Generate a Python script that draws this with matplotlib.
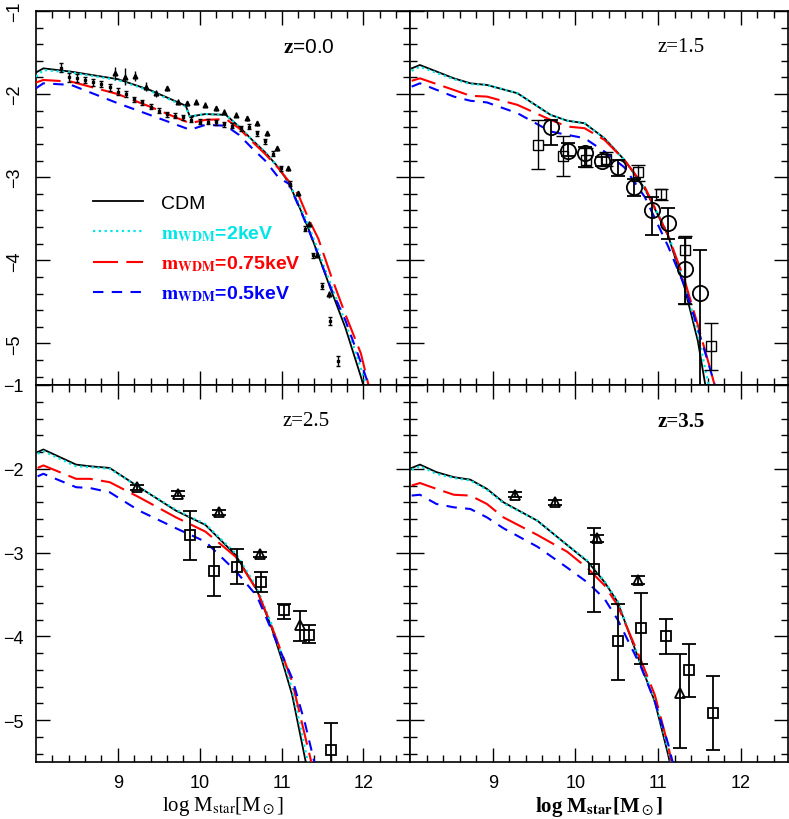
import matplotlib
matplotlib.use("Agg")
import matplotlib.pyplot as plt
import numpy as np

plt.rcParams['font.family'] = ['Liberation Sans', 'DejaVu Sans']
plt.rcParams['mathtext.fontset'] = 'stix'

# ---------------- data ----------------
# z = 0.0 model curves
z0_x = [8.00, 8.09, 8.43, 9.00, 9.39, 9.83, 9.88, 10.07, 10.32, 10.48, 10.64, 10.80,
        10.96, 11.09, 11.21, 11.33, 11.45, 11.61, 11.78, 11.97, 12.10]
z0_cdm = [-1.74, -1.69, -1.73, -1.82, -1.95, -2.14, -2.27, -2.24, -2.25, -2.39, -2.55, -2.70,
          -2.88, -3.07, -3.34, -3.62, -3.94, -4.37, -4.81, -5.40, -5.85]
z0_w2 = [-1.79, -1.71, -1.74, -1.83, -1.96, -2.15, -2.27, -2.24, -2.25, -2.39, -2.55, -2.70,
         -2.88, -3.06, -3.31, -3.58, -3.89, -4.31, -4.74, -5.30, -5.70]
z0_w075 = [-1.86, -1.83, -1.85, -2.00, -2.15, -2.33, -2.35, -2.31, -2.30, -2.41, -2.57, -2.72,
           -2.89, -3.05, -3.22, -3.50, -3.74, -4.20, -4.65, -5.12, -5.65]
z0_w05 = [-1.93, -1.87, -1.89, -2.11, -2.25, -2.41, -2.43, -2.37, -2.38, -2.49, -2.65, -2.80,
          -3.00, -3.08, -3.35, -3.63, -3.94, -4.35, -4.72, -5.23, -5.60]
# z = 0.0 observations (two samples)
z0_obsA_x = [8.30, 8.40, 8.50, 8.60, 8.70, 8.80, 8.90, 9.00, 9.10, 9.20, 9.30, 9.40, 9.50,
             9.60, 9.70, 9.80, 9.90, 10.00, 10.10, 10.20, 10.30, 10.40, 10.50, 10.60, 10.70,
             10.80, 10.89, 10.99, 11.10, 11.29, 11.39, 11.49, 11.59, 11.69]
z0_obsA_y = [-1.68, -1.80, -1.81, -1.83, -1.86, -1.88, -1.92, -1.97, -2.00, -2.06, -2.10,
             -2.15, -2.20, -2.24, -2.26, -2.28, -2.31, -2.33, -2.33, -2.34, -2.36, -2.38,
             -2.41, -2.39, -2.47, -2.57, -2.72, -2.89, -3.08, -3.62, -3.94, -4.31, -4.73, -5.21]
z0_obsA_err = [0.05, 0.06, 0.05, 0.04, 0.04, 0.04, 0.04, 0.04, 0.04, 0.03, 0.03, 0.03, 0.03,
               0.03, 0.03, 0.03, 0.03, 0.03, 0.03, 0.03, 0.03, 0.03, 0.03, 0.03, 0.03,
               0.03, 0.03, 0.03, 0.03, 0.03, 0.03, 0.04, 0.05, 0.06]
z0_obsB_x = [8.96, 9.09, 9.21, 9.35, 9.47, 9.60, 9.73, 9.85, 9.95, 10.07, 10.20, 10.30,
             10.44, 10.58, 10.70, 10.82, 10.94, 11.08, 11.20, 11.33, 11.43, 11.58]
z0_obsB_y = [-1.75, -1.79, -1.78, -1.91, -1.99, -1.93, -2.09, -2.11, -2.09, -2.13, -2.17,
             -2.21, -2.25, -2.29, -2.35, -2.47, -2.65, -2.89, -3.19, -3.56, -3.93, -4.41]
z0_obsB_err = [0.08, 0.10, 0.06, 0.05, 0.04, 0.03, 0.03, 0.03, 0.03, 0.03, 0.03, 0.03,
               0.03, 0.03, 0.03, 0.03, 0.03, 0.03, 0.03, 0.03, 0.03, 0.04]

# z = 1.5
z15_x = [8.02, 8.12, 8.53, 8.73, 8.93, 9.30, 9.70, 9.90, 10.11, 10.35, 10.59, 10.84,
         11.12, 11.32, 11.48, 11.62, 11.75]
z15_cdm = [-1.69, -1.65, -1.81, -1.87, -1.89, -1.99, -2.25, -2.32, -2.35, -2.53, -2.79, -3.14,
           -3.70, -4.33, -4.97, -5.79, -6.40]
z15_w2 = [-1.72, -1.67, -1.82, -1.88, -1.89, -1.99, -2.25, -2.32, -2.35, -2.53, -2.79, -3.14,
          -3.68, -4.28, -4.88, -5.55, -6.20]
z15_w075 = [-1.84, -1.81, -1.95, -2.02, -2.03, -2.13, -2.31, -2.39, -2.41, -2.55, -2.79, -3.12,
            -3.70, -4.24, -4.78, -5.27, -5.75]
z15_w05 = [-1.91, -1.87, -2.03, -2.08, -2.10, -2.23, -2.45, -2.49, -2.53, -2.69, -2.88, -3.24,
           -3.83, -4.31, -4.82, -5.28, -5.72]
z15_circ_x = [9.71, 9.91, 10.11, 10.32, 10.51, 10.71, 10.92, 11.12, 11.32, 11.51]
z15_circ_y = [-2.39, -2.69, -2.71, -2.81, -2.88, -3.12, -3.40, -3.55, -4.10, -4.39]
z15_circ_lo = [0.22, 0.06, 0.17, 0.06, 0.10, 0.10, 0.29, 0.19, 0.43, 1.30]
z15_circ_hi = [0.08, 0.10, 0.07, 0.05, 0.09, 0.10, 0.16, 0.18, 0.37, 0.51]
z15_sq_x = [9.55, 9.85, 10.13, 10.37, 10.76, 11.04, 11.33, 11.64]
z15_sq_y = [-2.61, -2.75, -2.79, -2.78, -2.94, -3.20, -3.87, -5.03]
z15_sq_lo = [0.29, 0.24, 0.09, 0.09, 0.10, 0.07, 0.66, 0.29]
z15_sq_hi = [0.30, 0.24, 0.14, 0.08, 0.09, 0.06, 0.16, 0.27]

# z = 2.5
z25_x = [8.02, 8.09, 8.49, 8.66, 8.90, 9.26, 9.71, 10.07, 10.44, 10.70, 10.88, 11.01,
         11.13, 11.29, 11.45]
z25_cdm = [-1.80, -1.77, -1.95, -1.97, -1.99, -2.22, -2.50, -2.67, -3.03, -3.45, -3.90, -4.30,
           -4.70, -5.47, -6.20]
z25_w2 = [-1.82, -1.79, -1.97, -1.98, -2.00, -2.22, -2.49, -2.66, -3.01, -3.42, -3.86, -4.25,
          -4.63, -5.35, -6.10]
z25_w075 = [-1.99, -1.96, -2.12, -2.12, -2.16, -2.34, -2.58, -2.75, -3.05, -3.45, -3.88, -4.22,
            -4.54, -5.20, -5.85]
z25_w05 = [-2.09, -2.06, -2.22, -2.23, -2.28, -2.50, -2.71, -2.87, -3.22, -3.52, -3.93, -4.23,
           -4.50, -5.05, -5.70]
z25_tri_x = [9.24, 9.74, 10.24, 10.74, 11.23]
z25_tri_y = [-2.22, -2.30, -2.52, -3.02, -3.87]
z25_tri_lo = [0.03, 0.03, 0.03, 0.03, 0.19]
z25_tri_hi = [0.03, 0.03, 0.03, 0.03, 0.17]
z25_sq_x = [9.88, 10.17, 10.45, 10.75, 11.03, 11.33, 11.61]
z25_sq_y = [-2.79, -3.22, -3.17, -3.35, -3.69, -3.98, -5.36]
z25_sq_lo = [0.30, 0.30, 0.21, 0.12, 0.10, 0.10, 0.40]
z25_sq_hi = [0.29, 0.29, 0.21, 0.12, 0.08, 0.11, 0.32]

# z = 3.5
z35_x = [8.02, 8.12, 8.32, 8.53, 8.73, 8.93, 9.13, 9.54, 9.90, 10.15, 10.35, 10.51,
         10.79, 10.96, 11.12, 11.25]
z35_cdm = [-1.99, -1.95, -2.04, -2.10, -2.13, -2.24, -2.40, -2.62, -2.91, -3.11, -3.35, -3.59,
           -4.34, -4.78, -5.41, -6.00]
z35_w2 = [-2.01, -1.97, -2.06, -2.11, -2.14, -2.25, -2.41, -2.62, -2.91, -3.10, -3.34, -3.58,
          -4.32, -4.75, -5.35, -5.90]
z35_w075 = [-2.20, -2.17, -2.24, -2.31, -2.32, -2.42, -2.58, -2.79, -2.99, -3.19, -3.39, -3.63,
            -4.28, -4.70, -5.30, -5.90]
z35_w05 = [-2.32, -2.31, -2.42, -2.46, -2.48, -2.58, -2.71, -2.93, -3.18, -3.36, -3.55, -3.80,
           -4.36, -4.78, -5.28, -5.80]
z35_tri_x = [9.27, 9.75, 10.26, 10.76, 11.27]
z35_tri_y = [-2.31, -2.40, -2.83, -3.33, -4.68]
z35_tri_lo = [0.03, 0.03, 0.04, 0.05, 0.65]
z35_tri_hi = [0.03, 0.03, 0.04, 0.05, 0.47]
z35_sq_x = [10.22, 10.51, 10.79, 11.09, 11.37, 11.66]
z35_sq_y = [-3.20, -4.06, -3.90, -4.00, -4.40, -4.91]
z35_sq_lo = [0.51, 0.46, 0.43, 0.21, 0.33, 0.45]
z35_sq_hi = [0.49, 0.45, 0.42, 0.21, 0.31, 0.44]

panel_labels = [r'$\mathbf{z}$=0.0', 'z=1.5', 'z=2.5', 'z=3.5']
legend_labels = ['CDM', r'$\mathbf{m_{WDM}}$=2keV', r'$\mathbf{m_{WDM}}$=0.75keV',
                 r'$\mathbf{m_{WDM}}$=0.5keV']
xlabel_text = r'log M$_{\rm star}$[M$_\odot$]'
xlabel_bold = r'log M$_{\mathbf{star}}$[M$_\odot$]'
xticks = [9, 10, 11, 12]
yticks = [-5, -4, -3, -2, -1]

# ---------------- styles ----------------
C_CDM = 'black'
C_W2 = '#00e5e5'
C_W075 = '#ff0000'
C_W05 = '#0000ff'
XLIM = (8.0, 12.57)
YLIM = (-5.5, -1.0)

W, H = 789, 820
fig = plt.figure(figsize=(W / 100, H / 100), dpi=100)


def px_axes(x0, y0, x1, y1):
    return fig.add_axes([x0 / W, 1 - y1 / H, (x1 - x0) / W, (y1 - y0) / H])


ax_tl = px_axes(36, 12, 410, 386)
ax_tr = px_axes(410, 12, 788, 386)
ax_bl = px_axes(36, 386, 410, 763)
ax_br = px_axes(410, 386, 788, 763)
axes = [ax_tl, ax_tr, ax_bl, ax_br]

models = [
    (z0_x, z0_cdm, z0_w2, z0_w075, z0_w05),
    (z15_x, z15_cdm, z15_w2, z15_w075, z15_w05),
    (z25_x, z25_cdm, z25_w2, z25_w075, z25_w05),
    (z35_x, z35_cdm, z35_w2, z35_w075, z35_w05),
]

for ax, (x, cdm, w2, w075, w05) in zip(axes, models):
    ax.plot(x, cdm, color=C_CDM, lw=1.3, solid_joinstyle='miter', zorder=3,
            label=legend_labels[0])
    ax.plot(x, w2, color=C_W2, lw=1.6, linestyle=(0, (1, 1.6)), zorder=4,
            label=legend_labels[1])
    ax.plot(x, w075, color=C_W075, lw=1.5, linestyle=(0, (12, 4)), zorder=4,
            label=legend_labels[2])
    ax.plot(x, w05, color=C_W05, lw=1.5, linestyle=(0, (5, 4)), zorder=4,
            label=legend_labels[3])

# observations
ax_tl.errorbar(z0_obsA_x, z0_obsA_y, yerr=z0_obsA_err, fmt='s', ms=1.6, color='black',
               mfc='black', elinewidth=1.0, capsize=1.6, capthick=1.0, zorder=5)
ax_tl.errorbar(z0_obsB_x, z0_obsB_y, yerr=z0_obsB_err, fmt='^', ms=3.4, color='black',
               mfc='black', elinewidth=1.0, capsize=0, zorder=5)

eb = dict(color='black', mfc='none', elinewidth=1.3, capsize=5, capthick=1.3,
          markeredgewidth=1.3, zorder=6)
ax_tr.errorbar(z15_sq_x, z15_sq_y, yerr=[z15_sq_lo, z15_sq_hi], fmt='s', ms=7,
               **{**eb, 'elinewidth': 1.0, 'capthick': 1.0, 'markeredgewidth': 1.0})
ax_tr.errorbar(z15_circ_x, z15_circ_y, yerr=[z15_circ_lo, z15_circ_hi], fmt='o', ms=11, **eb)

ax_bl.errorbar(z25_tri_x, z25_tri_y, yerr=[z25_tri_lo, z25_tri_hi], fmt='^', ms=7, **eb)
ax_bl.errorbar(z25_sq_x, z25_sq_y, yerr=[z25_sq_lo, z25_sq_hi], fmt='s', ms=7, **eb)

ax_br.errorbar(z35_tri_x, z35_tri_y, yerr=[z35_tri_lo, z35_tri_hi], fmt='^', ms=7, **eb)
ax_br.errorbar(z35_sq_x, z35_sq_y, yerr=[z35_sq_lo, z35_sq_hi], fmt='s', ms=7, **eb)

# axes styling
for i, ax in enumerate(axes):
    ax.set_xlim(*XLIM)
    ax.set_ylim(*YLIM)
    ax.set_xticks(xticks)
    ax.set_yticks(yticks)
    ax.set_xticks(np.arange(8.2, 12.6, 0.2), minor=True)
    ax.set_yticks(np.arange(-5.4, -1.0, 0.2), minor=True)
    ax.tick_params(which='both', direction='in', top=True, right=True, labelsize=13,
                   width=1.0, pad=9)
    ax.tick_params(which='major', length=10)
    ax.tick_params(which='minor', length=5)
    for s in ax.spines.values():
        s.set_linewidth(1.2)
    if i in (0, 1):
        ax.tick_params(labelbottom=False)
    if i in (1, 3):
        ax.tick_params(labelleft=False)

ax_tl.tick_params(axis='y', labelrotation=90)
for lab in ax_tl.get_yticklabels():
    lab.set_va('center')

# panel labels
ax_tl.text(0.66, 0.905, panel_labels[0], transform=ax_tl.transAxes, fontsize=15,
           va='center', ha='left', family='Liberation Sans')
ax_tr.text(0.655, 0.905, panel_labels[1], transform=ax_tr.transAxes, fontsize=15,
           va='center', ha='left', family='Liberation Serif')
ax_bl.text(0.66, 0.905, panel_labels[2], transform=ax_bl.transAxes, fontsize=15,
           va='center', ha='left', family='Liberation Serif')
ax_br.text(0.655, 0.905, panel_labels[3], transform=ax_br.transAxes, fontsize=15,
           va='center', ha='left', family='Liberation Serif', weight='bold')

# x labels
ax_bl.set_xlabel(xlabel_text, fontsize=15, family='Liberation Serif', labelpad=2)
ax_br.set_xlabel(xlabel_bold, fontsize=15, family='Liberation Serif', weight='bold',
                 labelpad=2)

# legend
leg = ax_tl.legend(loc='upper left', bbox_to_anchor=(0.152, 0.509), frameon=False,
                   fontsize=14, handlelength=2.6, handletextpad=0.9, labelspacing=0.55,
                   borderpad=0, borderaxespad=0)
for txt, col in zip(leg.get_texts(), [C_CDM, C_W2, C_W075, C_W05]):
    txt.set_color(col)
    if col != C_CDM:
        txt.set_fontweight('bold')

fig.savefig('out.png', dpi=100)
